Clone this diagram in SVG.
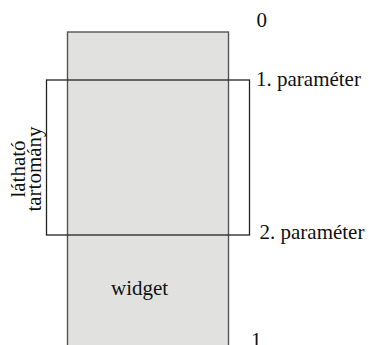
<svg xmlns="http://www.w3.org/2000/svg" width="369" height="345" viewBox="0 0 369 345">
  <style>
    text { font-family: "Liberation Serif", "Times New Roman", serif; font-size: 21px; fill: #111; }
    .widget { fill: #e1e2e0; stroke: #555; stroke-width: 1.4; }
    .view { fill: none; stroke: #222; stroke-width: 1.3; }
  </style>
  <rect width="369" height="345" fill="#ffffff"/>

  <!-- the scrolled widget, running past the bottom edge -->
  <g id="widget">
    <rect class="widget" x="67.5" y="32" width="161" height="330"/>
    <text x="111" y="295">widget</text>
  </g>

  <!-- visible range window -->
  <g id="visible-range">
    <rect class="view" x="46.5" y="80" width="203" height="155"/>
    <text transform="translate(25,169) rotate(-90)" text-anchor="middle">látható</text>
    <text transform="translate(41,169) rotate(-90)" text-anchor="middle">tartomány</text>
  </g>

  <!-- scale marks -->
  <g id="labels">
    <text x="256.5" y="27">0</text>
    <text x="256" y="86">1. paraméter</text>
    <text x="259.5" y="239">2. paraméter</text>
    <text x="251" y="347">1</text>
  </g>
</svg>
